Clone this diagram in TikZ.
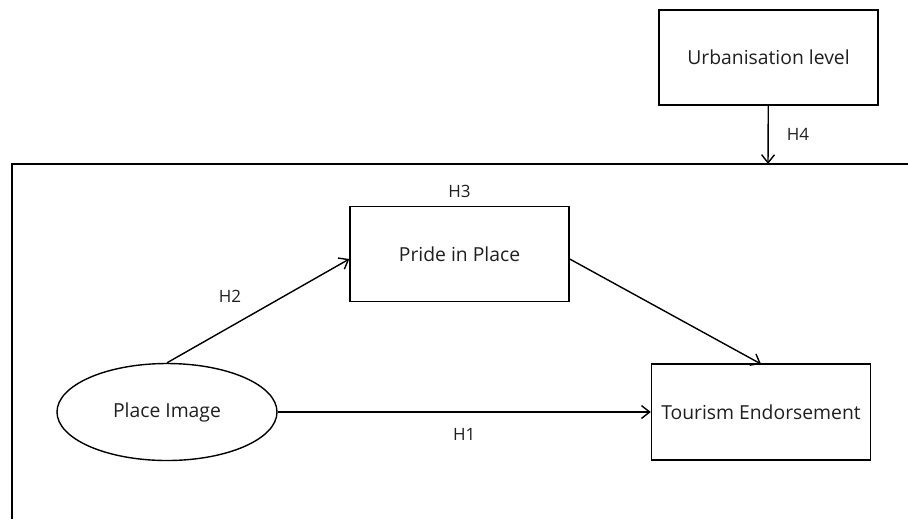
\documentclass[tikz,border=0pt]{standalone}
\usepackage{fontspec}
\setmainfont{Open Sans}
\usetikzlibrary{arrows.meta,shapes.geometric}
\begin{document}
\begin{tikzpicture}[x=0.03cm, y=-0.03cm, line width=1.2pt, font=\fontsize{16.5}{19}\selectfont]
    \tikzset{>={Straight Barb[length=7pt,width=11pt]}}
    \tikzset{varbox/.style={draw, rectangle, inner sep=0pt, minimum width=6.57cm, minimum height=2.85cm, text=black!88}}
    \tikzset{hlabel/.style={font=\fontsize{14.5}{17}\selectfont, text=black!88}}
    \useasboundingbox (0,0) rectangle (908,519);
    % moderator frame, runs off the page
    \draw (908,164) -| (12,519);
    \coordinate (frametop) at (768,164);
    \node [varbox] (urban) at (768.5,57.5) {Urbanisation level};
    \node [varbox] (pride) at (459.5,254) {Pride in Place};
    \node [varbox, minimum height=2.88cm] (tourism) at (761,412) {Tourism Endorsement};
    \node [draw, ellipse, inner sep=0pt, minimum width=6.6cm, minimum height=2.91cm, text=black!88] (image) at (167,412) {Place Image};
    \draw [->] (urban) -- (frametop) node [hlabel, midway, right=12pt] {H4};
    \draw [->] (image.north) -- (pride.west |- 0,259) node [hlabel, pos=0.4, xshift=-8.5pt, yshift=21pt] {H2};
    \draw [->] (image.east) -- (tourism.west) node [hlabel, midway, below=10pt] {H1};
    \draw [->] (pride.east |- 0,259) -- (tourism.north |- 0,364);
    \node [hlabel, above=3pt] at (pride.north) {H3};
\end{tikzpicture}
\end{document}
